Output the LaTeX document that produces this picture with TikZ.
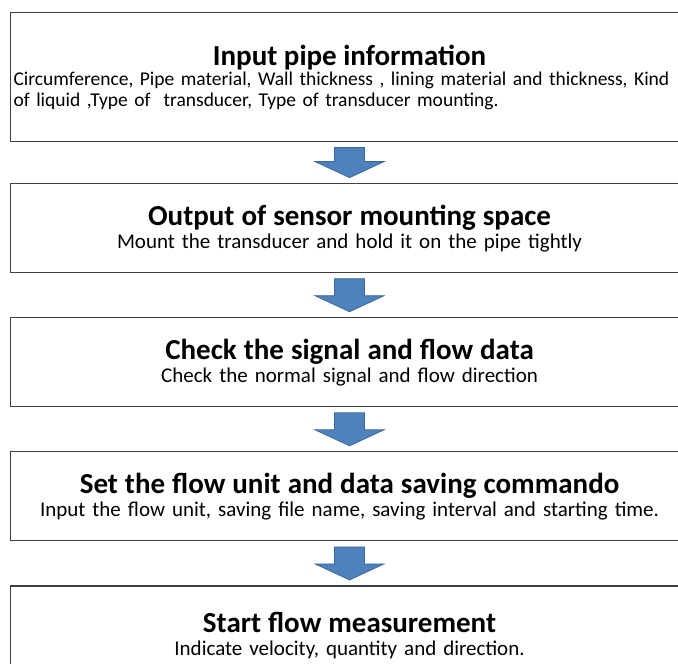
\documentclass[tikz,border=0pt]{standalone}
\usepackage{fontspec}
\setmainfont{Carlito}
\usetikzlibrary{calc, positioning}
\definecolor{arrowblue}{HTML}{4F81BD}
\definecolor{arrowedge}{HTML}{3A679C}
\definecolor{boxline}{HTML}{3F3F3F}

\newcommand{\steptitle}[1]{{\fontsize{29}{33}\selectfont\bfseries #1}}
% block arrow from the bottom of one box to the top of the next
\newcommand{\flowarrow}[2]{%
  \draw[flowarr] ($(#1.south)+(-15,-5.5)$) -- ($(#1.south)+(15,-5.5)$)
     -- ($(#2.north)+(15,21.5)$) -- ($(#2.north)+(34.5,21.5)$)
     -- ($(#2.north)+(0,5.5)$) -- ($(#2.north)+(-34.5,21.5)$)
     -- ($(#2.north)+(-15,21.5)$) -- cycle;}

\begin{document}
\begin{tikzpicture}[
    x=1pt, y=1pt,
    node distance=44pt,
    stepbox/.style={rectangle, draw=boxline, line width=1.1pt, fill=white,
                    text width=672pt, inner xsep=3pt, inner ysep=0pt,
                    minimum height=89pt, align=center,
                    font=\fontsize{21}{23}\selectfont},
    flowarr/.style={draw=arrowedge, fill=arrowblue, line width=0.8pt, line join=miter}
]
\useasboundingbox (0,0) rectangle (678,-664);
\clip (0,0) rectangle (678,-664);

\node[stepbox, anchor=north west, minimum height=129pt,
      font=\fontsize{19.5}{20.5}\selectfont] (pipeinfo) at (10,-12)
    {\steptitle{Input pipe information}\\
     \makebox[672pt][l]{Circumference, Pipe material, Wall thickness , lining material and thickness, Kind}\\
     \makebox[672pt][l]{of liquid ,Type of\ \ transducer, Type of transducer mounting.}};

\node[stepbox, below=41pt of pipeinfo] (mounting)
    {\steptitle{Output of sensor mounting space}\\
     Mount the transducer and hold it on the pipe tightly};

\node[stepbox, below=of mounting] (signal)
    {\steptitle{Check the signal and flow data}\\
     Check the normal signal and flow direction};

\node[stepbox, below=of signal] (saving)
    {\steptitle{Set the flow unit and data saving commando}\\
     Input the flow unit, saving file name, saving interval and starting time.};

\node[stepbox, below=of saving, minimum height=100pt] (measure)
    {\steptitle{Start flow measurement}\\
     Indicate velocity, quantity and direction.};

\flowarrow{pipeinfo}{mounting}
\flowarrow{mounting}{signal}
\flowarrow{signal}{saving}
\flowarrow{saving}{measure}

\end{tikzpicture}
\end{document}
